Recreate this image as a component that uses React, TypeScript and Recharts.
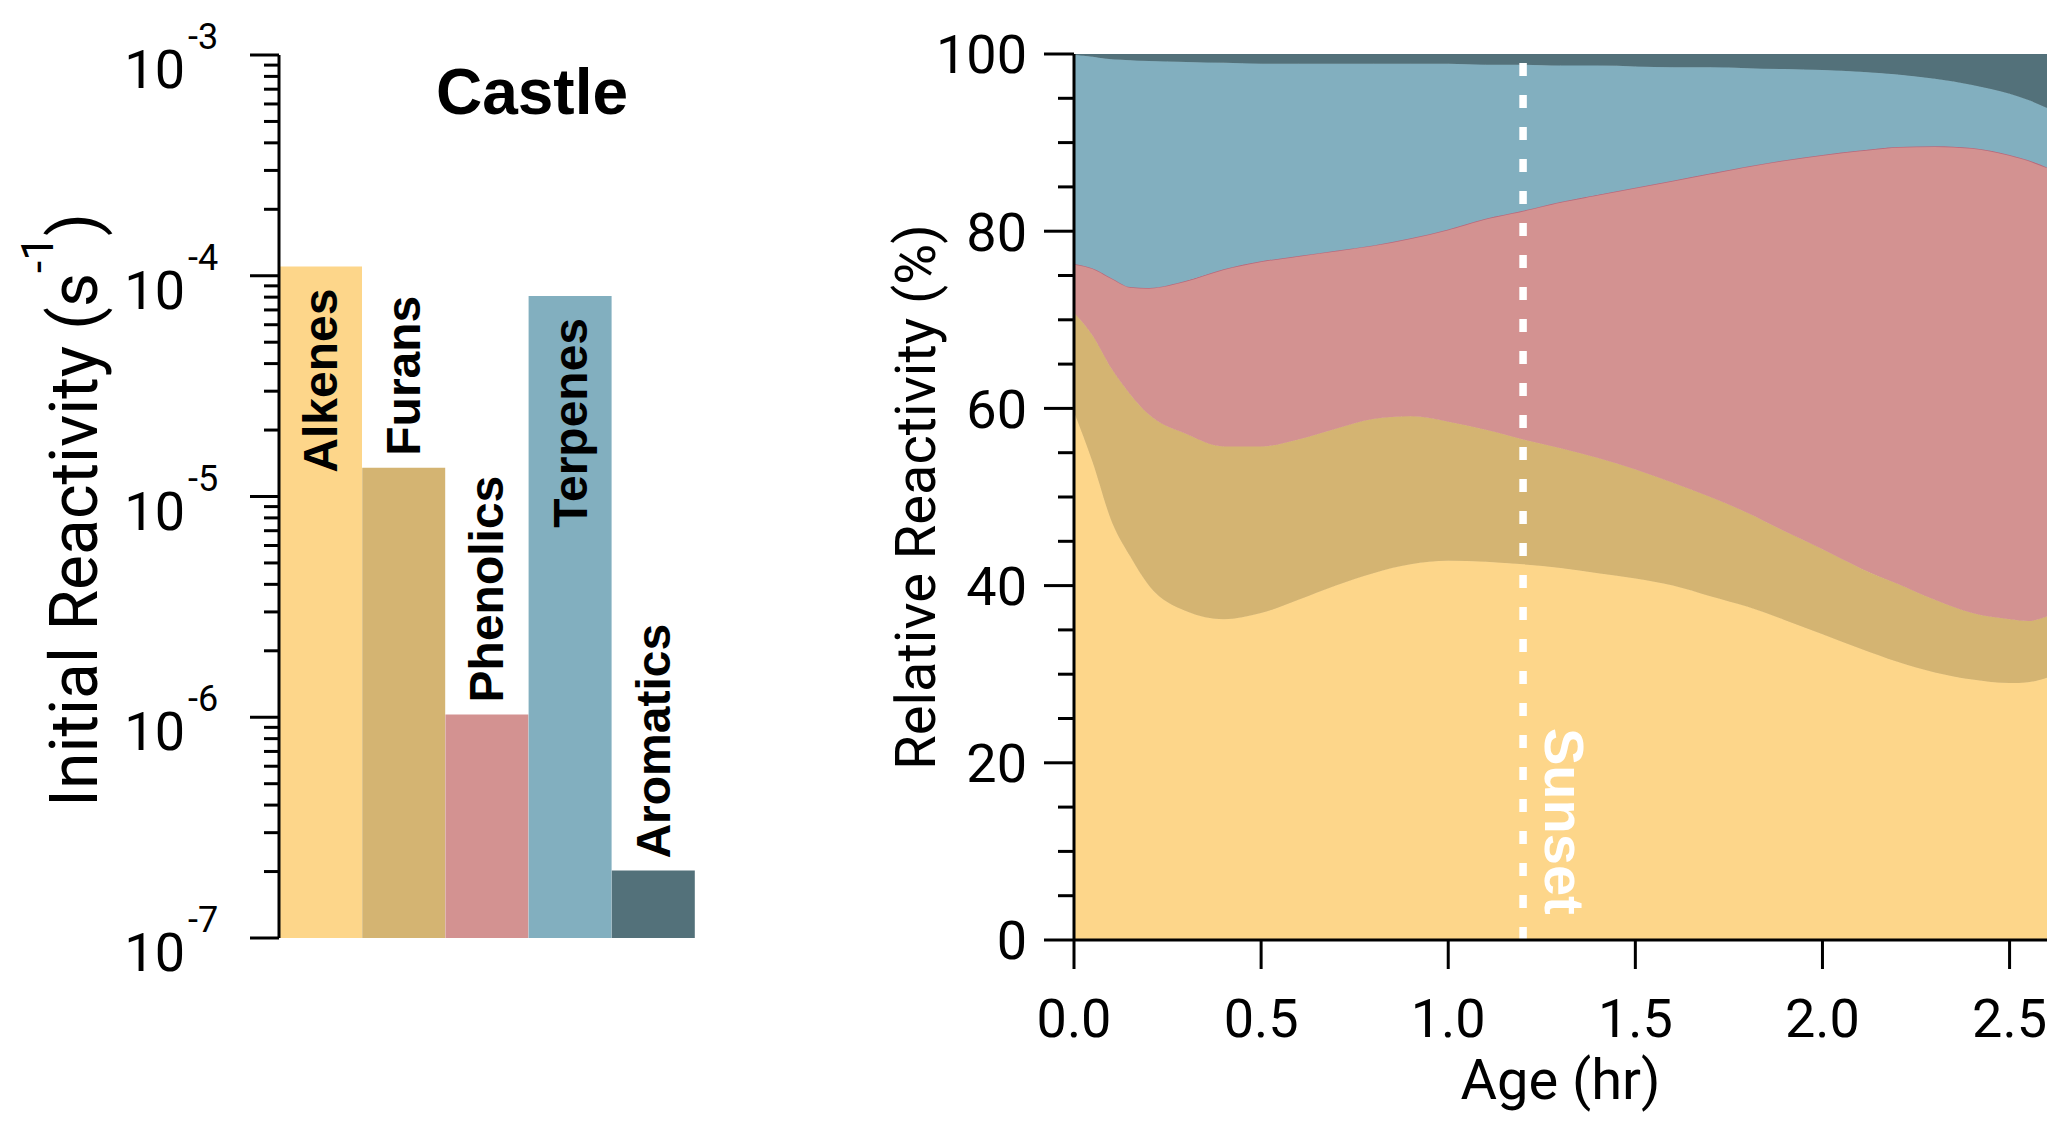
import React from 'react';
import {
  BarChart, Bar, Cell, LabelList, XAxis, YAxis, AreaChart, Area, ReferenceLine, Label,
} from 'recharts';

// left panel: initial reactivity by class (log scale)
const CLASSES = ['Alkenes', 'Furans', 'Phenolics', 'Terpenes', 'Aromatics'];
const INITIAL_REACTIVITY = [1.1e-4, 1.35e-5, 1.03e-6, 8.1e-5, 2.02e-7];
const LABEL_INSIDE = [true, false, false, true, false];
const COLORS = ['#FDD68A', '#D4B472', '#D39291', '#82AFBF', '#53717A'];

const DECADES = [1e-7, 1e-6, 1e-5, 1e-4, 1e-3];
const DECADE_EXP = ['-7', '-6', '-5', '-4', '-3'];

// right panel: relative reactivity (%) vs plume age
const AGE = [0, 0.05, 0.1, 0.15, 0.2, 0.3, 0.4, 0.5, 0.6, 0.7, 0.8, 0.9, 1.0, 1.1, 1.2, 1.3, 1.4, 1.5, 1.6, 1.7, 1.8, 1.9, 2.0, 2.1, 2.2, 2.3, 2.4, 2.5, 2.55, 2.6];
const ALKENES = [59.6, 53.9, 47.3, 43.3, 40.0, 37.1, 36.2, 36.9, 38.4, 40.0, 41.4, 42.4, 42.8, 42.7, 42.4, 42.0, 41.4, 40.8, 40.0, 38.8, 37.6, 36.1, 34.5, 32.9, 31.4, 30.2, 29.4, 29.0, 29.1, 29.6];
const FURANS = [11.2, 14.3, 17.2, 18.3, 19.3, 20.0, 19.5, 18.8, 18.1, 17.7, 17.4, 16.7, 15.7, 14.9, 14.1, 13.5, 13.0, 12.3, 11.6, 11.2, 10.6, 10.0, 9.6, 9.1, 8.8, 8.2, 7.5, 7.2, 6.9, 6.9];
const PHENOLICS = [5.5, 7.6, 10.2, 12.1, 14.3, 17.3, 20.0, 20.9, 20.7, 20.1, 19.6, 20.1, 21.7, 23.8, 25.8, 27.8, 29.7, 31.8, 34.1, 36.5, 39.1, 41.9, 44.5, 47.1, 49.3, 51.2, 52.5, 52.4, 52.0, 50.7];
const TERPENES = [23.6, 23.9, 24.7, 25.6, 25.6, 24.7, 23.3, 22.3, 21.7, 21.1, 20.5, 19.7, 18.7, 17.4, 16.5, 15.4, 14.6, 13.7, 12.8, 12.0, 11.1, 10.3, 9.6, 8.9, 8.2, 7.6, 7.1, 6.9, 6.8, 6.7];
const AROMATICS = [0.1, 0.3, 0.6, 0.7, 0.8, 0.9, 1.0, 1.1, 1.1, 1.1, 1.1, 1.1, 1.1, 1.2, 1.2, 1.3, 1.3, 1.4, 1.5, 1.5, 1.6, 1.7, 1.8, 2.0, 2.3, 2.8, 3.5, 4.5, 5.2, 6.1];

const AGE_TICKS = [0, 0.5, 1.0, 1.5, 2.0, 2.5];
const PCT_LABELS = [0, 20, 40, 60, 80, 100];
const SUNSET_AGE = 1.2;

const TICK_FONT = 'Roboto, "Noto Sans", sans-serif';
const BOLD_FONT = '"Liberation Sans", Arial, sans-serif';

const logTicks = [
  ...DECADES,
  ...DECADES.slice(0, -1).flatMap((d) => [2, 3, 4, 5, 6, 7, 8, 9].map((m) => m * d)),
].sort((a, b) => a - b);

const pctTicks = Array.from({ length: 21 }, (_, i) => i * 5);

function LogTick(props: any) {
  const x = Number(props.x);
  const y = Number(props.y);
  const v = props.payload.value;
  const idx = DECADES.findIndex((d) => Math.abs(Math.log10(d) - Math.log10(v)) < 1e-6);
  const major = idx >= 0;
  return (
    <g>
      <line x1={x - (major ? 29 : 15)} x2={x} y1={y} y2={y} stroke="#000" strokeWidth={3} />
      {major && (
        <>
          <text x={x - 94} y={y + 33} textAnchor="end" fontSize={54} fontFamily={TICK_FONT} fill="#000">10</text>
          <text x={x - 91} y={y - 6} textAnchor="start" fontSize={36} fontFamily={TICK_FONT} fill="#000">{DECADE_EXP[idx]}</text>
        </>
      )}
    </g>
  );
}

function PctTick(props: any) {
  const x = Number(props.x);
  const y = Number(props.y);
  const v = props.payload.value;
  const major = PCT_LABELS.includes(v);
  return (
    <g>
      <line x1={x - (major ? 30 : 16)} x2={x} y1={y} y2={y} stroke="#000" strokeWidth={3} />
      {major && (
        <text x={x - 47} y={y} dy="0.36em" textAnchor="end" fontSize={54} fontFamily={TICK_FONT} fill="#000">{v}</text>
      )}
    </g>
  );
}

function BarName(props: any) {
  const { index } = props;
  const x = Number(props.x);
  const y = Number(props.y);
  const width = Number(props.width);
  const inside = LABEL_INSIDE[index];
  const cx = x + width / 2;
  const ty = inside ? y + 22 : y - 12;
  return (
    <text
      x={cx}
      y={ty}
      transform={`rotate(-90, ${cx}, ${ty})`}
      textAnchor={inside ? 'end' : 'start'}
      dominantBaseline="central"
      fontFamily={BOLD_FONT}
      fontWeight="bold"
      fontSize={48}
      fill="#000"
    >
      {CLASSES[index]}
    </text>
  );
}

function LeftTitles(props: any) {
  const vb = props.viewBox;
  const axisX = vb.x + vb.width;
  const tx = axisX - 182;
  const ty = vb.y + vb.height - 131;
  return (
    <g>
      <text
        x={tx}
        y={ty}
        transform={`rotate(-90, ${tx}, ${ty})`}
        textAnchor="start"
        fontSize={66}
        fontFamily={TICK_FONT}
        fill="#000"
      >
        Initial Reactivity (s<tspan dy={-44} fontSize={44}>-1</tspan><tspan dy={44}>)</tspan>
      </text>
      <text x={axisX + 253} y={114} textAnchor="middle" fontSize={64} fontWeight="bold" fontFamily={BOLD_FONT} fill="#000">
        Castle
      </text>
    </g>
  );
}

function RightTitle(props: any) {
  const vb = props.viewBox;
  const tx = vb.x + vb.width - 158;
  const ty = vb.y + vb.height / 2;
  return (
    <text
      x={tx}
      y={ty}
      transform={`rotate(-90, ${tx}, ${ty})`}
      textAnchor="middle"
      dominantBaseline="central"
      fontSize={56}
      fontFamily={TICK_FONT}
      fill="#000"
    >
      Relative Reactivity (%)
    </text>
  );
}

function SunsetLabel(props: any) {
  const vb = props.viewBox;
  const tx = vb.x + 22;
  const ty = vb.y + vb.height - 212;
  return (
    <text
      x={tx}
      y={ty}
      transform={`rotate(90, ${tx}, ${ty})`}
      textAnchor="start"
      fontSize={56}
      fontWeight="bold"
      fontFamily={BOLD_FONT}
      fill="#fff"
    >
      Sunset
    </text>
  );
}

export default function App() {
  const barData = CLASSES.map((name, i) => ({ name, value: INITIAL_REACTIVITY[i] }));
  const areaData = AGE.map((age, i) => ({
    age,
    alkenes: ALKENES[i],
    furans: FURANS[i],
    phenolics: PHENOLICS[i],
    terpenes: TERPENES[i],
    aromatics: AROMATICS[i],
  }));

  const series = [
    { key: 'alkenes', color: COLORS[0], stroke: COLORS[0] },
    { key: 'furans', color: COLORS[1], stroke: COLORS[1] },
    { key: 'phenolics', color: COLORS[2], stroke: '#B86A7C' },
    { key: 'terpenes', color: COLORS[3], stroke: COLORS[3] },
    { key: 'aromatics', color: COLORS[4], stroke: COLORS[4] },
  ];

  return (
    <div style={{ position: 'absolute', left: 0, top: 0, width: 2067, height: 1131, background: '#fff' }}>
      <div style={{ position: 'absolute', left: 0, top: 0 }}>
        <BarChart
          width={760}
          height={1131}
          data={barData}
          barCategoryGap={0}
          barGap={0}
          margin={{ top: 55, right: 65, left: 219, bottom: 193 }}
        >
          <XAxis dataKey="name" hide />
          <YAxis
            width={60}
            scale="log"
            type="number"
            domain={[1e-7, 1e-3]}
            allowDataOverflow
            ticks={logTicks}
            interval={0}
            tickSize={0}
            tickMargin={0}
            tickLine={false}
            axisLine={{ stroke: '#000', strokeWidth: 3 }}
            tick={<LogTick />}
            label={LeftTitles}
          />
          <Bar dataKey="value" isAnimationActive={false}>
            {barData.map((d, i) => (
              <Cell key={d.name} fill={COLORS[i]} />
            ))}
            <LabelList dataKey="name" content={BarName} />
          </Bar>
        </BarChart>
      </div>
      <div style={{ position: 'absolute', left: 760, top: 0 }}>
        <AreaChart
          width={1307}
          height={1131}
          data={areaData}
          margin={{ top: 54, right: 20, left: 0, bottom: 21 }}
        >
          <XAxis
            dataKey="age"
            type="number"
            domain={[0, 2.6]}
            allowDataOverflow
            ticks={AGE_TICKS}
            interval={0}
            height={170}
            tickSize={29}
            tickMargin={30}
            tickFormatter={(v: number) => v.toFixed(1)}
            tick={{ fontSize: 54, fontFamily: TICK_FONT, fill: '#000' }}
            tickLine={{ stroke: '#000', strokeWidth: 3 }}
            axisLine={{ stroke: '#000', strokeWidth: 3 }}
          >
            <Label value="Age (hr)" position="insideBottom" offset={11} fontSize={56} fontFamily={TICK_FONT} fill="#000" />
          </XAxis>
          <YAxis
            width={314}
            type="number"
            domain={[0, 100]}
            allowDataOverflow
            ticks={pctTicks}
            interval={0}
            tickSize={0}
            tickMargin={0}
            tickLine={false}
            axisLine={{ stroke: '#000', strokeWidth: 3 }}
            tick={<PctTick />}
            label={RightTitle}
          />
          {series.map((s) => (
            <Area
              key={s.key}
              type="monotone"
              dataKey={s.key}
              stackId="rel"
              fill={s.color}
              fillOpacity={1}
              stroke={s.stroke}
              strokeWidth={s.key === 'phenolics' ? 1.5 : 1}
              isAnimationActive={false}
              dot={false}
              activeDot={false}
            />
          ))}
          <ReferenceLine
            x={SUNSET_AGE}
            stroke="#fff"
            strokeWidth={7.5}
            strokeDasharray="13 19"
            label={SunsetLabel}
          />
        </AreaChart>
      </div>
    </div>
  );
}
